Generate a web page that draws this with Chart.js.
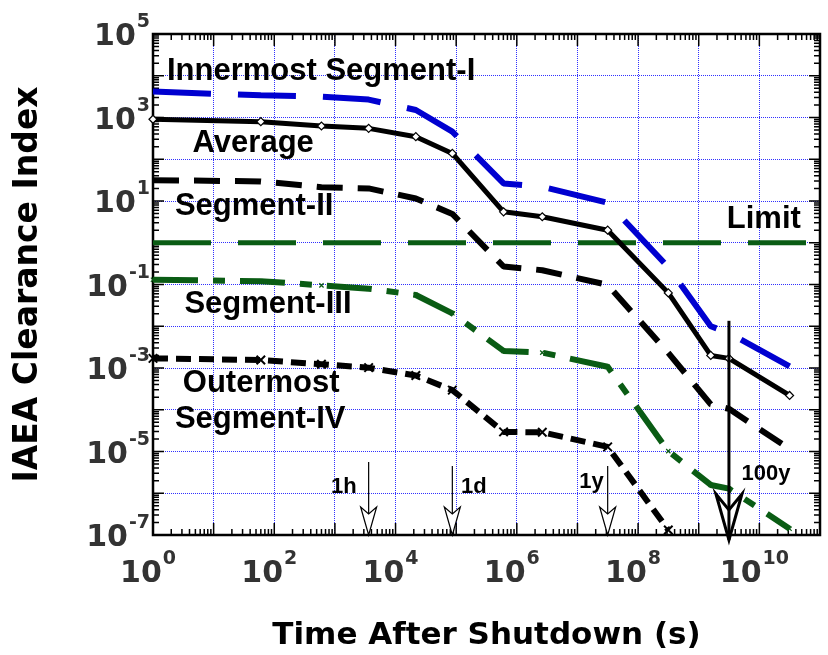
<!DOCTYPE html>
<html>
<head>
<meta charset="utf-8">
<title>IAEA Clearance Index</title>
<script src="https://cdn.jsdelivr.net/npm/chart.js@4.4.0/dist/chart.umd.min.js"></script>
<style>
  html, body { margin: 0; padding: 0; background: #fff; }
  #wrap { width: 828px; height: 655px; }
</style>
</head>
<body>
<div id="wrap"><canvas id="clearanceChart" width="828" height="655"></canvas></div>
<script>
// time after shutdown (s): 1s, 1min, 10min, 1h, 6h, 1d, 1wk, 1mo, 1y, 10y, 50y, 100y, 1000y
const times = [1, 60, 600, 3600, 21600, 86400, 604800, 2.63e6, 3.15e7, 3.15e8, 1.58e9, 3.15e9, 3.15e10];

const innermost = [4170, 3390, 3160, 2690, 1510, 457, 26.3, 21.9, 9.1, 0.26, 0.010, 0.0069, 0.0011];
const average = [906, 794, 625, 550, 347, 138, 5.5, 4.2, 2.0, 0.063, 0.0020, 0.0017, 0.00022];
const segment2 = [31.6, 29.5, 21.4, 20.0, 11.5, 4.9, 0.27, 0.22, 0.098, 0.0023, 1.35e-4, 1.05e-4, 1.15e-5];
const segment3 = [0.130, 0.120, 0.0955, 0.0794, 0.0562, 0.0204, 0.00257, 0.00234, 0.00107, 1.02e-5, 1.58e-6, 1.29e-6, 1.41e-7];
const outermost = [1.70e-3, 1.55e-3, 1.23e-3, 1.02e-3, 6.6e-4, 2.95e-4, 2.95e-5, 2.88e-5, 1.29e-5, 1.32e-7];

const limitTimes = [1, 1e11];
const limitValues = [1, 1];

const xTickExps = [0, 2, 4, 6, 8, 10];
const yTickExps = [5, 3, 1, -1, -3, -5, -7];

// curve labels (left edge, baseline) in data units
const curveLabels = ['Innermost Segment-I', 'Average', 'Segment-II', 'Limit', 'Segment-III', 'Outermost', 'Segment-IV'];
const curveLabelX = [1.7, 4.5, 2.3, 2.9e9, 3.3, 3.1, 2.3];
const curveLabelY = [7900, 149, 4.6, 2.25, 0.0207, 2.66e-4, 3.66e-5];

// time marks (arrows)
const markTimes = [3600, 86400, 3.15e7, 3.15e9];
const markLabels = ['1h', '1d', '1y', '100y'];
const markTops = [5.6e-6, 4.5e-6, 4.5e-6, 0.0135];
const markTips = [1e-7, 1e-7, 1e-7, 7.6e-8];
const markLabelX = [860, 1.2e5, 1.07e7, 5.07e9];
const markLabelY = [1.02e-6, 1.02e-6, 1.34e-6, 2.07e-6];

const BLUE = '#0000d0';
const GREEN = '#0a5c14';
const AXIS_FONT = '"DejaVu Sans", sans-serif';
const LABEL_FONT = '"Liberation Sans", Arial, sans-serif';

function points(values) {
    return values.map((v, i) => ({ x: times[i], y: v }));
}

function decades(from, to) {
    const out = [];
    for (let e = from; e <= to; e++) out.push({ value: Math.pow(10, e) });
    return out;
}

function drawPow(ctx, exp, left, baseline) {
    ctx.font = 'bold 30px ' + AXIS_FONT;
    ctx.fillText('10', left, baseline);
    const w = ctx.measureText('10').width;
    ctx.font = 'bold 19px ' + AXIS_FONT;
    ctx.fillText(String(exp), left + w + 1, baseline - 18);
}

function powWidth(ctx, exp) {
    ctx.font = 'bold 30px ' + AXIS_FONT;
    const w1 = ctx.measureText('10').width;
    ctx.font = 'bold 19px ' + AXIS_FONT;
    return w1 + 1 + ctx.measureText(String(exp)).width;
}

function drawArrow(ctx, px, top, tip, heavy) {
    const headLen = heavy ? 46 : 28;
    const half = heavy ? 13 : 8;
    const notch = heavy ? 16 : 7;
    ctx.strokeStyle = '#000';
    ctx.lineWidth = heavy ? 3 : 1.2;
    ctx.beginPath();
    ctx.moveTo(px, top);
    ctx.lineTo(px, tip - headLen + notch);
    ctx.stroke();
    ctx.beginPath();
    ctx.moveTo(px - half, tip - headLen);
    ctx.lineTo(px, tip);
    ctx.lineTo(px + half, tip - headLen);
    ctx.lineTo(px, tip - headLen + notch);
    ctx.closePath();
    ctx.fillStyle = '#fff';
    ctx.fill();
    ctx.stroke();
    if (heavy) {
        ctx.beginPath();
        ctx.moveTo(px, tip - headLen + notch);
        ctx.lineTo(px, tip);
        ctx.stroke();
    }
}

const decorations = {
    id: 'decorations',
    beforeDatasetsDraw(chart) {
        const { ctx, chartArea: a, scales: { x, y } } = chart;
        ctx.save();
        ctx.strokeStyle = '#000';
        ctx.lineWidth = 1.5;
        ctx.beginPath();
        // inward log ticks, bottom and top
        for (let e = 0; e <= 11; e++) {
            for (let m = 1; m <= 9; m++) {
                if (e === 11 && m > 1) break;
                const px = x.getPixelForValue(m * Math.pow(10, e));
                const len = m === 1 ? 12 : 6;
                ctx.moveTo(px, a.bottom); ctx.lineTo(px, a.bottom - len);
                ctx.moveTo(px, a.top); ctx.lineTo(px, a.top + len);
            }
        }
        // left and right
        for (let e = -7; e <= 5; e++) {
            for (let m = 1; m <= 9; m++) {
                if (e === 5 && m > 1) break;
                const py = y.getPixelForValue(m * Math.pow(10, e));
                const len = m === 1 ? 11 : 6;
                ctx.moveTo(a.left, py); ctx.lineTo(a.left + len, py);
                ctx.moveTo(a.right, py); ctx.lineTo(a.right - len, py);
            }
        }
        ctx.stroke();
        ctx.lineWidth = 2.5;
        ctx.strokeRect(a.left, a.top, a.right - a.left, a.bottom - a.top);
        ctx.restore();
    },
    afterDatasetsDraw(chart) {
        const { ctx, scales: { x, y } } = chart;
        ctx.save();
        // time arrows
        markTimes.forEach((t, i) => {
            const px = x.getPixelForValue(t);
            drawArrow(ctx, px, y.getPixelForValue(markTops[i]), y.getPixelForValue(markTips[i]), i === 3);
        });
        ctx.fillStyle = '#000';
        ctx.textBaseline = 'alphabetic';
        ctx.textAlign = 'left';
        ctx.font = 'bold 22px ' + LABEL_FONT;
        markLabels.forEach((lbl, i) => {
            ctx.fillText(lbl, x.getPixelForValue(markLabelX[i]), y.getPixelForValue(markLabelY[i]));
        });
        ctx.font = 'bold 31px ' + LABEL_FONT;
        curveLabels.forEach((lbl, i) => {
            ctx.fillText(lbl, x.getPixelForValue(curveLabelX[i]), y.getPixelForValue(curveLabelY[i]));
        });
        ctx.restore();
    },
    afterDraw(chart) {
        const { ctx, chartArea: a, scales: { x, y } } = chart;
        ctx.save();
        ctx.fillStyle = '#333';
        ctx.textBaseline = 'alphabetic';
        ctx.textAlign = 'left';
        xTickExps.forEach(e => {
            const px = x.getPixelForValue(Math.pow(10, e));
            const w = powWidth(ctx, e);
            drawPow(ctx, e, px - 5 - w / 2, 582);
        });
        yTickExps.forEach(e => {
            const py = y.getPixelForValue(Math.pow(10, e));
            const w = powWidth(ctx, e);
            drawPow(ctx, e, a.left - 3 - w, py + 11);
        });
        ctx.restore();
    }
};

const ctx = document.getElementById('clearanceChart').getContext('2d');
const chart = new Chart(ctx, {
    type: 'line',
    data: {
        datasets: [
            {
                label: 'Innermost Segment-I',
                data: points(innermost),
                borderColor: BLUE,
                borderWidth: 6,
                borderDash: [58, 27],
                pointRadius: 0
            },
            {
                label: 'Average',
                data: points(average),
                borderColor: '#000',
                borderWidth: 5,
                pointStyle: 'rectRot',
                pointRadius: 4,
                pointBackgroundColor: '#fff',
                pointBorderColor: '#000',
                pointBorderWidth: 1.2
            },
            {
                label: 'Segment-II',
                data: points(segment2),
                borderColor: '#000',
                borderWidth: 6,
                borderDash: [26, 15],
                pointRadius: 0
            },
            {
                label: 'Limit',
                data: limitTimes.map((t, i) => ({ x: t, y: limitValues[i] })),
                borderColor: GREEN,
                borderWidth: 5,
                borderDash: [58, 27],
                pointRadius: 0
            },
            {
                label: 'Segment-III',
                data: points(segment3),
                borderColor: GREEN,
                borderWidth: 6,
                borderDash: [45, 15, 12, 15],
                pointStyle: 'crossRot',
                pointRadius: 3,
                pointBorderColor: GREEN,
                pointBorderWidth: 1.2
            },
            {
                label: 'Outermost Segment-IV',
                data: points(outermost),
                borderColor: '#000',
                borderWidth: 6,
                borderDash: [15, 8],
                pointStyle: 'crossRot',
                pointRadius: 6,
                pointBorderColor: '#000',
                pointBorderWidth: 2
            }
        ]
    },
    options: {
        responsive: false,
        animation: false,
        devicePixelRatio: 1,
        layout: { padding: { top: 34, right: 5, left: 0, bottom: 0 } },
        elements: { line: { tension: 0, borderJoinStyle: 'bevel' } },
        datasets: { line: { clip: false } },
        plugins: {
            legend: { display: false },
            tooltip: { enabled: false }
        },
        scales: {
            x: {
                type: 'logarithmic',
                min: 1,
                max: 1e11,
                afterBuildTicks: s => { s.ticks = decades(0, 11); },
                afterFit: s => { s.height = 120; },
                ticks: { display: false },
                grid: { color: '#3030ff', lineWidth: 1, drawTicks: false },
                border: { display: false, dash: [1, 1] },
                title: {
                    display: true,
                    text: 'Time After Shutdown (s)',
                    color: '#000',
                    font: { family: AXIS_FONT, size: 31, weight: 'bold' },
                    padding: { top: 0, bottom: 0 }
                }
            },
            y: {
                type: 'logarithmic',
                min: 1e-7,
                max: 1e5,
                afterBuildTicks: s => { s.ticks = decades(-7, 5); },
                afterFit: s => { s.width = 153; },
                ticks: { display: false },
                grid: { color: '#3030ff', lineWidth: 1, drawTicks: false },
                border: { display: false, dash: [1, 1] },
                title: {
                    display: true,
                    text: 'IAEA Clearance Index',
                    color: '#000',
                    font: { family: AXIS_FONT, size: 33, weight: 'bold' },
                    padding: { top: 9, bottom: 0 }
                }
            }
        }
    },
    plugins: [decorations]
});
</script>
</body>
</html>
